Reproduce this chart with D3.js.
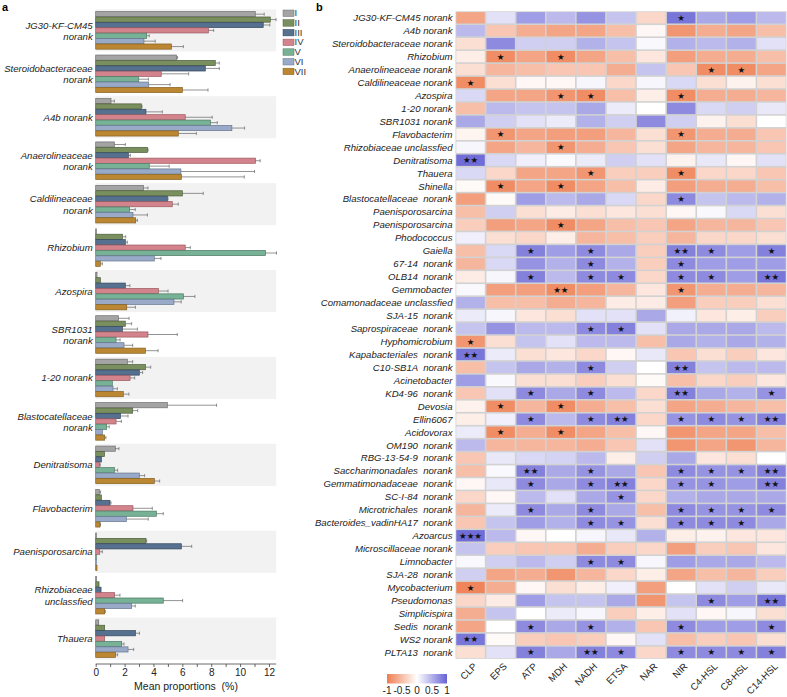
<!DOCTYPE html>
<html><head><meta charset="utf-8">
<script src="https://cdn.jsdelivr.net/npm/d3@7"></script>
<style>
html,body{margin:0;padding:0;background:#fff;}
svg{display:block;font-family:"Liberation Sans",Arial,sans-serif;}
</style></head>
<body>
<svg id="chart" width="787" height="697"></svg>
<script>
// ---------- Panel a data ----------
const groups = ["JG30-KF-CM45\nnorank","Steroidobacteraceae\nnorank","A4b norank","Anaerolineaceae\nnorank","Caldilineaceae\nnorank","Rhizobium","Azospira","SBR1031\nnorank","1-20 norank","Blastocatellaceae\nnorank","Denitratisoma","Flavobacterim","Paenisporosarcina","Rhizobiaceae\nunclassfied","Thauera"];
const seriesNames = ["I","II","III","IV","V","VI","VII"];
const seriesColors = ["#a4a4a4","#7a8f5e","#56708f","#d3838b","#77b196","#98aac8","#bb8733"];
const seriesStroke = ["#6e6e6e","#4d5c3a","#34465c","#9a5960","#4c7a64","#66768f","#85601f"];
const valI   = [11.05,5.6,1.06,1.29,3.3,0.04,0.09,1.57,2.19,4.96,1.36,0.25,0.02,0.05,0.21];
const valII  = [12.09,8.28,3.16,3.58,6.0,1.85,0.32,2.05,3.44,2.56,0.6,0.39,3.48,0.23,0.62];
const valIII = [11.6,7.59,3.48,2.26,4.96,2.05,2.05,1.85,3.02,1.71,0.39,0.99,5.93,0.37,2.75];
const valIV  = [7.8,4.54,6.2,11.07,5.3,6.2,4.34,3.62,2.38,1.41,0.25,2.58,0.28,1.31,0.62];
const valV   = [3.53,2.98,7.94,3.71,2.35,11.76,6.07,1.41,1.15,0.76,1.29,4.2,0.02,4.68,1.8];
const valVI  = [3.34,3.67,9.43,5.9,2.58,4.06,5.42,1.96,1.2,0.46,3.02,2.12,0.02,2.49,2.24];
const valVII = [5.24,6.0,5.72,5.93,2.77,0.32,2.15,3.44,1.91,0.62,4.06,0.3,0.09,0.62,1.38];
const errI   = [0.62,0.07,0.23,0.76,0.32,0,0,0.74,0.37,3.41,0.25,0.09,0,0,0];
const errII  = [0.4,0.28,0.05,0.05,1.45,0.23,0,0.44,0.37,0.35,0,0,0.05,0,0];
const errIII = [0.46,0.97,1.13,0.14,0.05,0.14,0.32,1.04,0.23,0.53,0,0.07,0.72,0,0.28];
const errIV  = [0.37,1.9,1.87,0.32,0.42,0.35,0.67,2.03,0.32,0.37,0.07,1.34,0.18,0.37,0];
const errV   = [0.18,0.67,0.48,1.38,0.39,0.76,0.8,0.28,0,0.18,0.23,0.48,0,1.34,0.16];
const errVI  = [0.78,1.48,0.88,5.1,1.0,0.46,0.5,0.6,0.3,0,0.37,1.52,0,0.25,0.39];
const errVII = [0.83,1.78,1.25,4.36,0.12,0.14,0.6,0.88,0.39,0.09,0.37,0.03,0,0.05,0.14];
const xTicksA = [0,1,2,3,4,5,6,7,8,9,10,11,12];

// ---------- Panel b data ----------
const taxa = ["JG30-KF-CM45 norank","A4b norank","Steroidobacteraceae norank","Rhizobium","Anaerolineaceae norank","Caldilineaceae norank","Azospira","1-20 norank","SBR1031 norank","Flavobacterim","Rhizobiaceae unclassfied","Denitratisoma","Thauera","Shinella","Blastocatellaceae  norank","Paenisporosarcina","Paenisporosarcina","Phodococcus","Gaiella","67-14  norank","OLB14  norank","Gemmobacter","Comamonadaceae unclassfied","SJA-15  norank","Saprospiraceae  norank","Hyphomicrobium","Kapabacteriales  norank","C10-SB1A  norank","Acinetobacter","KD4-96  norank","Devosia","Ellin6067","Acidovorax","OM190  norank","RBG-13-54-9  norank","Saccharimonadales  norank","Gemmatimonadaceae  norank","SC-I-84  norank","Microtrichales  norank","Bacteroides_vadinHA17  norank","Azoarcus","Microscillaceae norank","Limnobacter","SJA-28  norank","Mycobacterium","Pseudomonas","Simplicispira","Sedis  norank","WS2 norank","PLTA13  norank"];
const factors = ["CLP","EPS","ATP","MDH","NADH","ETSA","NAR","NIR","C4-HSL","C8-HSL","C14-HSL"];
const corr = [
[-0.69,0.19,0.63,0.44,0.69,0.38,-0.31,0.88,0.56,0.63,0.44],
[0.44,-0.44,-0.63,-0.69,-0.69,-0.5,-0.06,-0.81,-0.63,-0.69,-0.5],
[-0.25,0.75,0.31,0.31,0.5,0.38,0.04,0.5,0.44,0.5,0.19],
[-0.13,-0.88,-0.69,-0.88,-0.69,-0.5,-0.19,-0.75,-0.63,-0.63,-0.5],
[-0.25,-0.56,-0.5,-0.44,-0.44,-0.63,0.38,-0.44,-0.88,-0.88,-0.69],
[-0.88,-0.25,-0.06,-0.06,0.06,-0.31,0.06,0.25,-0.25,-0.1,-0.25],
[0.25,-0.69,-0.69,-0.81,-0.88,-0.5,-0.13,-0.88,-0.63,-0.63,-0.56],
[-0.5,0.44,0.38,0.38,0.56,0.13,0.0,0.75,0.25,0.31,0.15],
[0.56,0.31,0.19,0.13,0.5,0.31,0.75,0.31,-0.1,-0.25,0.0],
[-0.08,-0.81,-0.69,-0.75,-0.75,-0.56,-0.25,-0.81,-0.63,-0.63,-0.44],
[0.06,-0.69,-0.56,-0.81,-0.63,-0.44,-0.25,-0.69,-0.56,-0.56,-0.44],
[0.94,0.25,0.1,0.03,0.13,0.31,0.19,-0.1,0.15,-0.06,0.19],
[0.25,-0.31,-0.69,-0.69,-0.81,-0.38,-0.38,-0.88,-0.31,-0.31,-0.44],
[-0.04,-0.88,-0.69,-0.88,-0.69,-0.5,-0.15,-0.75,-0.63,-0.63,-0.5],
[-0.75,-0.04,0.63,0.44,0.56,0.25,-0.31,0.75,0.38,0.44,0.5],
[-0.5,0.31,-0.25,-0.15,-0.25,-0.19,-0.25,-0.06,0.04,0.25,-0.25],
[-0.38,-0.75,-0.69,-0.88,-0.69,-0.5,-0.44,-0.69,-0.56,-0.56,-0.44],
[0.1,-0.25,-0.31,-0.13,-0.56,-0.5,-0.38,-0.56,-0.31,-0.31,-0.25],
[-0.5,0.25,0.81,0.63,0.75,0.56,-0.38,0.81,0.75,0.63,0.81],
[-0.56,0.25,0.69,0.5,0.75,0.5,-0.38,0.75,0.63,0.63,0.63],
[-0.15,0.06,0.81,0.44,0.75,0.75,-0.31,0.75,0.75,0.63,0.88],
[0.04,-0.75,-0.75,-0.88,-0.75,-0.56,-0.19,-0.81,-0.63,-0.63,-0.56],
[0.5,-0.5,-0.5,-0.63,-0.56,-0.15,-0.15,-0.75,-0.38,-0.38,-0.25],
[0.13,0.06,-0.19,-0.25,0.19,0.19,0.56,0.09,-0.19,-0.13,-0.38],
[0.38,0.69,0.44,0.44,0.75,0.81,0.19,0.56,0.56,0.56,0.44],
[-0.81,-0.25,0.38,0.19,0.44,0.44,-0.5,0.56,0.5,0.56,0.5],
[0.88,0.13,-0.25,-0.19,-0.31,-0.06,0.15,-0.44,-0.25,-0.38,-0.19],
[-0.5,0.38,0.56,0.5,0.75,0.31,0.0,0.81,0.38,0.44,0.44],
[0.63,0.04,-0.25,-0.25,-0.38,-0.25,-0.04,-0.5,-0.31,-0.38,-0.19],
[-0.44,0.19,0.75,0.56,0.75,0.44,-0.31,0.81,0.56,0.5,0.69],
[-0.1,-0.88,-0.56,-0.88,-0.63,-0.5,-0.25,-0.69,-0.63,-0.56,-0.5],
[-0.13,0.1,0.75,0.44,0.75,0.81,-0.31,0.69,0.75,0.69,0.81],
[0.13,-0.88,-0.63,-0.88,-0.69,-0.5,-0.06,-0.81,-0.69,-0.69,-0.5],
[0.44,-0.56,-0.56,-0.56,-0.63,-0.44,0.19,-0.81,-0.69,-0.81,-0.56],
[-0.44,0.15,0.25,0.28,0.44,-0.13,0.31,0.56,-0.19,-0.25,0.0],
[-0.5,0.04,0.81,0.56,0.69,0.56,-0.44,0.75,0.69,0.69,0.81],
[-0.06,0.15,0.75,0.56,0.75,0.81,-0.31,0.69,0.69,0.63,0.81],
[-0.31,-0.06,0.44,0.19,0.56,0.69,-0.31,0.5,0.56,0.56,0.56],
[-0.56,0.13,0.75,0.56,0.75,0.56,-0.5,0.75,0.69,0.69,0.75],
[-0.44,0.38,0.63,0.5,0.75,0.69,-0.25,0.75,0.75,0.75,0.56],
[0.94,0.44,-0.06,0.0,0.06,0.15,0.5,-0.13,-0.1,-0.19,-0.19],
[0.38,-0.38,-0.44,-0.44,-0.63,-0.38,-0.31,-0.75,-0.38,-0.44,-0.19],
[0.04,0.31,0.44,0.31,0.75,0.75,0.06,0.63,0.56,0.56,0.44],
[0.31,-0.69,-0.63,-0.81,-0.56,-0.31,-0.13,-0.69,-0.5,-0.56,-0.38],
[-0.94,-0.63,-0.06,-0.25,-0.13,0.1,-0.75,0.0,0.19,0.31,0.15],
[-0.31,-0.15,0.63,0.38,0.38,0.56,-0.81,0.38,0.75,0.63,0.88],
[-0.63,0.38,0.0,0.13,0.06,-0.38,-0.13,0.19,-0.06,0.06,-0.25],
[-0.69,0.0,0.75,0.56,0.69,0.5,-0.44,0.75,0.63,0.63,0.75],
[0.88,-0.04,-0.38,-0.44,-0.38,-0.06,0.19,-0.5,-0.38,-0.44,-0.25],
[-0.25,0.19,0.81,0.56,0.81,0.75,-0.31,0.75,0.75,0.75,0.81]
];
// number of significance stars per cell (one digit per factor)
const sigStars = [
"00000001000","00000000000","00000000000","01010000000","00000000110",
"10000000000","00011001000","00000000000","00000000000","01000001000",
"00010000000","20000000000","00001001000","01010000000","00000001000",
"00000000000","00010000000","00000000000","00101002101","00001001000",
"00101101102","00020001000","00000000000","00000000000","00001100000",
"10000000000","20000000000","00001002000","00000000000","00101002001",
"01010000000","00101201112","01010000000","00000000000","00000000000",
"00201001112","00101201102","00000100000","00101001111","00001101110",
"30000000000","00000000000","00001100000","00000000000","10000000000",
"00000000102","00000000000","00101001001","20000000000","00102101111"
];
const legendTicks = [-1,-0.5,0,0.5,1];

// ---------- drawing ----------
const svg = d3.select("#chart");
const FONT = '"Liberation Sans",Arial,sans-serif';

// ===== Panel a =====
const series = [valI,valII,valIII,valIV,valV,valVI,valVII];
const errs = [errI,errII,errIII,errIV,errV,errVI,errVII];
const xA = d3.scaleLinear().domain([0,12.5]).range([95.7,276.2]);
const yA = d3.scaleBand().domain(groups).range([9.3,659.7]).paddingInner(0.03);
const gA = svg.append("g");

groups.forEach((gname,gi)=>{
  const y0 = yA(gname), bh = yA.bandwidth();
  if (gi%2===0) gA.append("rect").attr("x",xA(0)).attr("y",y0).attr("width",xA.range()[1]-xA(0)).attr("height",bh).attr("fill","#f2f2f2");
  const cy = y0+bh/2;
  const yS = d3.scaleBand().domain(seriesNames).range([cy-19,cy+19]).padding(0.04);
  seriesNames.forEach((s,si)=>{
    const v = series[si][gi], e = errs[si][gi];
    const by = yS(s), h = yS.bandwidth();
    gA.append("rect").attr("x",xA(0)).attr("y",by).attr("width",Math.max(0.6,xA(v)-xA(0))).attr("height",h)
      .attr("fill",seriesColors[si]).attr("stroke",seriesStroke[si]).attr("stroke-width",0.7);
    if (e>0){
      const x1 = xA(v), x2 = xA(v+e), my = by+h/2;
      gA.append("line").attr("x1",x1).attr("x2",x2).attr("y1",my).attr("y2",my).attr("stroke","#666").attr("stroke-width",0.7);
      gA.append("line").attr("x1",x2).attr("x2",x2).attr("y1",my-1.6).attr("y2",my+1.6).attr("stroke","#666").attr("stroke-width",0.7);
    }
  });
  const lines = gname.split("\n");
  const t = gA.append("text").attr("text-anchor","end").attr("font-style","italic").attr("font-size",9.6).attr("font-family",FONT).attr("fill","#222");
  if (lines.length===1){
    t.append("tspan").attr("x",92.7).attr("y",cy+3.5).text(lines[0]);
  } else {
    t.append("tspan").attr("x",92.7).attr("y",cy-1.8).text(lines[0]);
    t.append("tspan").attr("x",92.7).attr("y",cy+9.6).text(lines[1]);
  }
});
const axA = d3.axisBottom(xA).tickValues(xTicksA).tickSize(3).tickSizeOuter(0).tickFormat(d=> d%2===0? d : "");
const axG = gA.append("g").attr("transform","translate(0,664)").call(axA);
axG.select(".domain").attr("stroke","#444").attr("stroke-width",0.8).attr("d",`M${xA(0)},0H${xA.range()[1]}`);
axG.selectAll(".tick line").attr("stroke","#444").attr("stroke-width",0.8);
axG.selectAll(".tick text").attr("font-size",10).attr("font-family",FONT).attr("fill","#222").attr("dy","0.75em").attr("y",4);
gA.append("text").attr("x",186).attr("y",690).attr("text-anchor","middle").attr("font-size",10.5).attr("font-family",FONT).attr("fill","#222").style("white-space","pre").text("Mean proportions  (%)");

// legend
seriesNames.forEach((s,i)=>{
  const ly = 10+i*9.7;
  svg.append("rect").attr("x",283).attr("y",ly).attr("width",11).attr("height",6.5).attr("fill",seriesColors[i]).attr("stroke",seriesStroke[i]).attr("stroke-width",0.5);
  svg.append("text").attr("x",294.5).attr("y",ly+6.3).attr("font-size",9.5).attr("font-family",FONT).attr("fill","#333").text(s);
});

svg.append("text").attr("x",2).attr("y",11).attr("font-size",11).attr("font-weight","bold").attr("font-family",FONT).text("a");
svg.append("text").attr("x",316).attr("y",11).attr("font-size",11).attr("font-weight","bold").attr("font-family",FONT).text("b");

// ===== Panel b =====
const rowIds = taxa.map((t,i)=>i);
const xB = d3.scaleBand().domain(factors).range([455.5,786.5]);
const yB = d3.scaleBand().domain(rowIds).range([11.3,658.8]);
const color = d3.scaleLinear().domain([-1,0,1]).range(["#ef7d50","#ffffff","#6763d5"]);
const gB = svg.append("g");
gB.append("rect").attr("x",xB.range()[0]).attr("y",yB.range()[0]).attr("width",xB.range()[1]-xB.range()[0]).attr("height",yB.range()[1]-yB.range()[0]).attr("fill","#d2d2d2");
const gap = 0.8;
corr.forEach((row,ri)=>{
  row.forEach((v,ci)=>{
    const x = xB(factors[ci]), y = yB(ri);
    gB.append("rect").attr("x",x+gap).attr("y",y+gap).attr("width",xB.bandwidth()-2*gap).attr("height",yB.bandwidth()-2*gap).attr("fill",color(v));
    const n = +sigStars[ri][ci];
    if (n>0){
      gB.append("text").attr("x",x+xB.bandwidth()/2).attr("y",y+yB.bandwidth()/2+3.1).attr("text-anchor","middle")
        .attr("font-size",8.5).attr("font-family","DejaVu Sans").attr("fill","#111").text("★".repeat(n));
    }
  });
  gB.append("text").attr("x",452.5).attr("y",yB(ri)+yB.bandwidth()/2+3.4).attr("text-anchor","end").attr("font-style","italic")
    .attr("font-size",9.6).attr("font-family",FONT).attr("fill","#222").style("white-space","pre").text(taxa[ri]);
});
factors.forEach(f=>{
  const cx = xB(f)+xB.bandwidth()/2+7, cy = 667;
  gB.append("text").attr("transform",`translate(${cx},${cy}) rotate(-45)`).attr("text-anchor","end")
    .attr("font-size",9.6).attr("font-family",FONT).attr("fill","#222").text(f);
});

// colour legend
const defs = svg.append("defs");
const grad = defs.append("linearGradient").attr("id","cbar").attr("x1","0%").attr("x2","100%");
d3.range(0,1.0001,0.1).forEach(t=>{
  grad.append("stop").attr("offset",(t*100)+"%").attr("stop-color",color(-1+2*t));
});
const xC = d3.scaleLinear().domain([-1,1]).range([387,447]);
svg.append("rect").attr("x",xC(-1)).attr("y",674).attr("width",xC(1)-xC(-1)).attr("height",9.5).attr("fill","url(#cbar)");
legendTicks.forEach(t=>{
  svg.append("text").attr("x",xC(t)).attr("y",694).attr("text-anchor","middle").attr("font-size",10).attr("font-family",FONT).attr("fill","#222").text(t);
});
</script>
</body></html>
